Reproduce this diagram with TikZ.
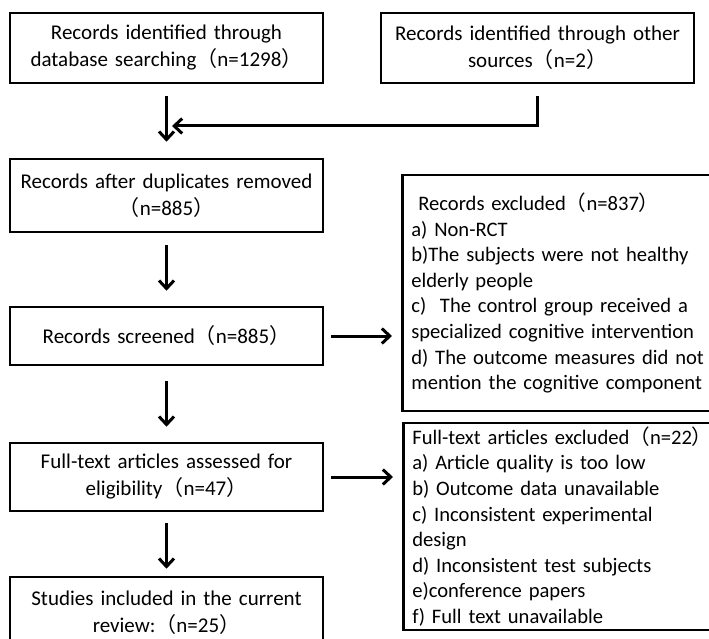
\documentclass[tikz,border=0pt]{standalone}
\usepackage{fontspec}
\setmainfont{Carlito}
\newfontfamily\cjk{Noto Sans CJK SC}
\usetikzlibrary{arrows.meta}
\newcommand{\LP}{{\cjk （}}
\newcommand{\RP}{{\cjk ）}}
\begin{document}
\begin{tikzpicture}[x=1pt,y=-1pt,
  box/.style={draw, line width=2.6pt, minimum width=313pt, text width=305pt, align=center,
    font=\fontsize{21}{27}\selectfont, inner sep=0pt},
  side/.style={draw, line width=2.6pt, anchor=west, text width=318pt, align=left,
    font=\fontsize{20.6}{25.6}\selectfont, inner xsep=9pt, inner ysep=0pt},
  arr/.style={line width=3pt, -{Straight Barb[length=8pt,width=15pt]}}]
\useasboundingbox (0,0) rectangle (709,639);
\clip (0,0) rectangle (709,639);
\node[box, minimum height=70pt] (b1) at (166.5,48) {Records identified through\\database searching\LP n=1298\RP};
\node[box, minimum height=70pt] (b2) at (537.5,48) {Records identified through other\\sources\LP n=2\RP};
\node[box, minimum height=73pt] (b3) at (166.5,195.5) {Records after duplicates removed\\\LP n=885\RP};
\node[box, minimum height=58pt] (b4) at (166.5,336) {Records screened\LP n=885\RP};
\node[box, minimum height=68pt] (b5) at (166.5,477) {Full-text articles assessed for\\eligibility\LP n=47\RP};
\node[box, minimum height=71pt] (b6) at (166.5,612.5) {Studies included in the current\\review:\LP n=25\RP};
\node[side, minimum height=236pt] (r1) at (401,293) {\hspace*{7pt}Records excluded\LP n=837\RP\\a) Non-RCT\\b)The subjects were not healthy\\elderly people\\c)\ \ The control group received a\\specialized cognitive intervention\\d) The outcome measures did not\\mention the cognitive component};
\node[side, minimum height=207pt] (r2) at (402,526.5) {Full-text articles excluded\LP n=22\RP\\a) Article quality is too low\\b) Outcome data unavailable\\c) Inconsistent experimental\\design\\d) Inconsistent test subjects\\e)conference papers\\f) Full text unavailable};
\coordinate (m) at (172,126);
\draw[arr, shorten <=12pt, shorten >=16pt] (b1.south) -- (b3.north);
\draw[arr, shorten <=12pt] (b2.south) |- (m);
\draw[arr, shorten <=12pt, shorten >=15pt] (b3.south) -- (b4.north);
\draw[arr, shorten <=15pt, shorten >=15pt] (b4.south) -- (b5.north);
\draw[arr, shorten <=11pt, shorten >=7pt] (b5.south) -- (b6.north);
\draw[arr, shorten <=7pt, shorten >=9pt] (b4.east) -- (b4.east -| r1.west);
\draw[arr, shorten <=7pt, shorten >=9pt] (b5.east) -- (b5.east -| r2.west);
\end{tikzpicture}
\end{document}
